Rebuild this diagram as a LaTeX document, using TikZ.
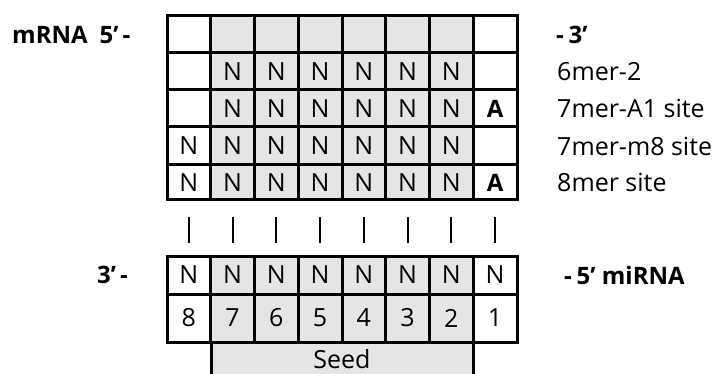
\documentclass[tikz,border=0pt]{standalone}
\usepackage{fontspec}
\setmainfont{Open Sans}
\newcommand{\ap}{\char"0027\relax}
\begin{document}
\begin{tikzpicture}[x=1pt,y=-1pt,
  every node/.style={font=\fontsize{25}{30}\selectfont, inner sep=0pt},
  gridline/.style={line width=3pt},
  barline/.style={line width=2pt},
  shade/.style={fill=black!10},
  lbl/.style={anchor=west},
  boldlbl/.style={font=\fontsize{24}{29}\selectfont\bfseries}
]
\useasboundingbox (0,0) rectangle (717,374);
\def\cw{43.75}
% top grid shading
\fill[shade] (167+\cw,16) rectangle (167+7*\cw,200);
% lower grid shading
\fill[shade] (167+\cw,256) rectangle (167+7*\cw,342);
\fill[shade] (211,342) rectangle (473,380);
% top grid lines
\foreach \y in {16,53,90,127,165,200} \draw[gridline] (165.5,\y) -- (518.5,\y);
\foreach \i in {0,...,8} \draw[gridline] (167+\i*\cw,16) -- (167+\i*\cw,200);
% lower grid lines
\foreach \y in {256,294,342} \draw[gridline] (165.5,\y) -- (518.5,\y);
\foreach \i in {0,...,8} \draw[gridline] (167+\i*\cw,256) -- (167+\i*\cw,342);
\draw[gridline] (211,342) -- (211,376);
\draw[gridline] (473,342) -- (473,376);
% top grid text
\foreach \r/\yc in {2/71.5,3/108.5,4/146,5/182.5}{
  \foreach \i in {2,...,7} \node (t\r c\i) at (167+\i*\cw-0.5*\cw,\yc) {N};
}
\node (t4c1) at (167+0.5*\cw,146) {N};
\node (t5c1) at (167+0.5*\cw,182.5) {N};
\node[boldlbl] (t3c8) at (167+7.5*\cw,108.5) {A};
\node[boldlbl] (t5c8) at (167+7.5*\cw,182.5) {A};
% bars
\foreach \i in {1,...,8} \draw[barline] (167+\i*\cw-0.5*\cw,217) -- (167+\i*\cw-0.5*\cw,243);
% lower grid text
\foreach \i/\n in {1/8,2/7,3/6,4/5,5/4,6/3,7/2,8/1}{
  \node (b1c\i) at (167+\i*\cw-0.5*\cw,275) {N};
  \node (b2c\i) at (167+\i*\cw-0.5*\cw,318) {\n};
}
\node (seed) at (342,359) {Seed};
% labels
\node[boldlbl,anchor=west] (mrna) at (12,35) {mRNA\hspace{0.5em}5\ap\,-};
\node[boldlbl,anchor=west] (three) at (556,35) {-\hspace{0.2em}3\ap};
\node[lbl] (l1) at (557,71.5) {6mer-2};
\node[lbl] (l2) at (557,108.5) {7mer-A1 site};
\node[lbl] (l3) at (557,146) {7mer-m8 site};
\node[lbl] (l4) at (557,182.5) {8mer site};
\node[boldlbl,anchor=east] (mi3) at (128,275) {3\ap\,-};
\node[boldlbl,anchor=west] (mi5) at (564,275) {-\hspace{0.2em}5\ap{} miRNA};
\end{tikzpicture}
\end{document}
